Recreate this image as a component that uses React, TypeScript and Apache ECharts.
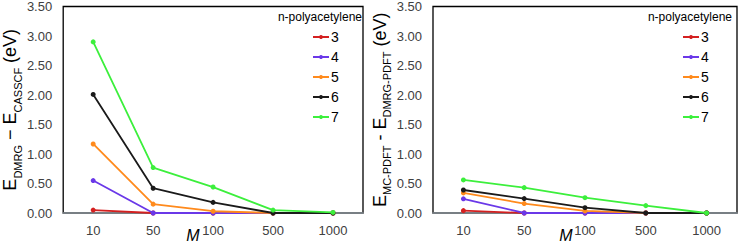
import React, { useEffect, useRef } from "react";
import * as echarts from "echarts";

const categories = ["10", "50", "100", "500", "1000"];
const seriesNames = ["3", "4", "5", "6", "7"];
const colors = ["#d42020", "#6a38e8", "#ff8a1c", "#1a1a1a", "#3cef3c"];

// Left panel: E_DMRG - E_CASSCF (eV)
const left3 = [0.05, 0.0, 0.0, 0.0, 0.0];
const left4 = [0.55, 0.0, 0.0, 0.0, 0.0];
const left5 = [1.17, 0.15, 0.03, 0.0, 0.0];
const left6 = [2.01, 0.42, 0.18, 0.0, 0.0];
const left7 = [2.9, 0.77, 0.44, 0.05, 0.01];

// Right panel: E_MC-PDFT - E_DMRG-PDFT (eV)
const right3 = [0.04, 0.0, 0.0, 0.0, 0.0];
const right4 = [0.24, 0.0, 0.0, 0.0, 0.0];
const right5 = [0.34, 0.16, 0.035, 0.0, 0.0];
const right6 = [0.39, 0.245, 0.09, 0.0, 0.0];
const right7 = [0.56, 0.43, 0.26, 0.125, 0.0];

const leftData = [left3, left4, left5, left6, left7];
const rightData = [right3, right4, right5, right6, right7];

const FONT = "Liberation Sans, Arial, sans-serif";

export default function App() {
  const ref = useRef<HTMLDivElement>(null);
  useEffect(() => {
    document.body.style.margin = "0";
    const chart = echarts.init(ref.current!, null, { renderer: "svg" });
    const grids = [
      { left: 60, top: 5, width: 303, height: 208 },
      { left: 433, top: 5, width: 304, height: 208 },
    ];
    const nameRich = {
      e: { fontSize: 18, fontFamily: FONT, color: "#000", verticalAlign: "bottom", padding: [0, 0, 4, 0] },
      s: { fontSize: 11, fontFamily: FONT, color: "#000", verticalAlign: "bottom" },
    };
    const yAxisBase = (gi: number, name: string) => ({
      type: "value",
      gridIndex: gi,
      min: 0,
      max: 3.5,
      interval: 0.5,
      axisLine: { show: false },
      axisTick: { show: false },
      splitLine: { show: false },
      axisLabel: {
        formatter: (v: number) => v.toFixed(2),
        color: "#404040",
        fontSize: 13,
        fontFamily: FONT,
        margin: 11,
      },
      name,
      nameLocation: "middle",
      nameRotate: 90,
      nameGap: 40,
      nameTextStyle: { rich: nameRich },
    });
    const xAxisBase = (gi: number) => ({
      type: "category",
      gridIndex: gi,
      data: categories,
      axisLine: { show: true, lineStyle: { color: "#8c959c", width: 1.5 } },
      axisTick: { show: false },
      axisLabel: { color: "#404040", fontSize: 13, fontFamily: FONT, margin: 11 },
      z: 3,
    });
    const series: any[] = [];
    [leftData, rightData].forEach((data, gi) => {
      data.forEach((vals, i) => {
        series.push({
          type: "line",
          name: seriesNames[i],
          xAxisIndex: gi,
          yAxisIndex: gi,
          data: vals,
          symbol: "circle",
          symbolSize: 5,
          color: colors[i],
          lineStyle: { width: 1.8, color: colors[i] },
          itemStyle: { color: colors[i] },
          z: 5 + i,
        });
      });
    });
    const legendBase = (left: number) => ({
      orient: "vertical",
      left,
      top: 25,
      data: seriesNames,
      itemWidth: 16,
      itemHeight: 5,
      itemGap: 6,
      textStyle: { fontSize: 14, lineHeight: 14, color: "#000", fontFamily: FONT, padding: [0, 0, 0, -3] },
      selectedMode: false,
    });
    chart.setOption({
      animation: false,
      backgroundColor: "#fff",
      grid: grids.map((g) => ({ ...g, show: true, borderColor: "#000", borderWidth: 1.3, containLabel: false })),
      xAxis: [xAxisBase(0), xAxisBase(1)],
      yAxis: [
        yAxisBase(0, "{e|E}{s|DMRG}{e| − E}{s|CASSCF}{e| (eV)}"),
        yAxisBase(1, "{e|E}{s|MC-PDFT}{e| - E}{s|DMRG-PDFT}{e| (eV)}"),
      ],
      legend: [legendBase(307), legendBase(677)],
      series,
      graphic: [
        { type: "text", x: 362, y: 17, style: { text: "n-polyacetylene", fontSize: 12, fontFamily: FONT, fill: "#000", align: "right", verticalAlign: "middle" } },
        { type: "text", x: 732, y: 17, style: { text: "n-polyacetylene", fontSize: 12, fontFamily: FONT, fill: "#000", align: "right", verticalAlign: "middle" } },
        { type: "text", x: 193, y: 235, style: { text: "M", fontSize: 16, fontStyle: "italic", fontFamily: FONT, fill: "#000", align: "center", verticalAlign: "middle" } },
        { type: "text", x: 566, y: 235, style: { text: "M", fontSize: 16, fontStyle: "italic", fontFamily: FONT, fill: "#000", align: "center", verticalAlign: "middle" } },
      ],
    });
    return () => chart.dispose();
  }, []);
  return <div ref={ref} style={{ width: 740, height: 244, position: "fixed", left: 0, top: 0 }} />;
}
